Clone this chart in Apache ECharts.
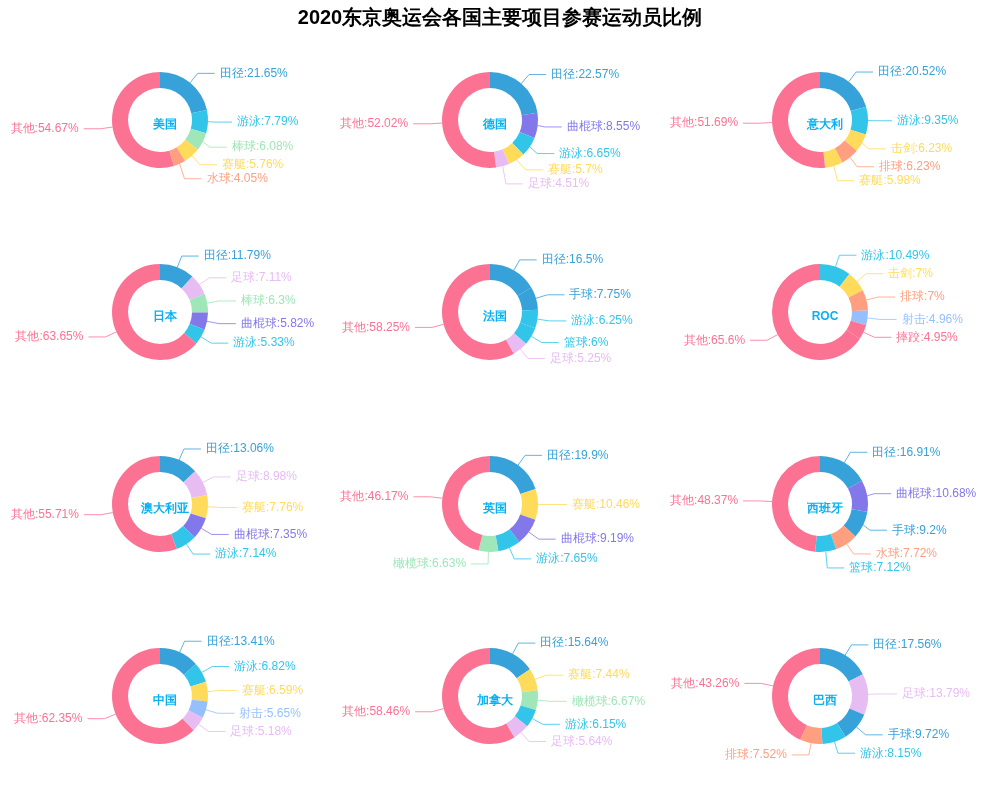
<!DOCTYPE html>
<html>
<head>
<meta charset="utf-8">
<title>2020东京奥运会各国主要项目参赛运动员比例</title>
<script src="https://cdn.jsdelivr.net/npm/echarts@6/dist/echarts.min.js"></script>
<style>
    html, body { margin: 0; padding: 0; background: #fff; }
    #main { width: 1000px; height: 800px; }
</style>
</head>
<body>
<div id="main"></div>
<script>
    // 国家（按网格顺序，从左到右、从上到下）
    const countries = ['美国', '德国', '意大利', '日本', '法国', 'ROC',
        '澳大利亚', '英国', '西班牙', '中国', '加拿大', '巴西'];

    // 每个国家的项目名称
    const sportNames = [
        ['田径', '游泳', '棒球', '赛艇', '水球', '其他'],
        ['田径', '曲棍球', '游泳', '赛艇', '足球', '其他'],
        ['田径', '游泳', '击剑', '排球', '赛艇', '其他'],
        ['田径', '足球', '棒球', '曲棍球', '游泳', '其他'],
        ['田径', '手球', '游泳', '篮球', '足球', '其他'],
        ['游泳', '击剑', '排球', '射击', '摔跤', '其他'],
        ['田径', '足球', '赛艇', '曲棍球', '游泳', '其他'],
        ['田径', '赛艇', '曲棍球', '游泳', '橄榄球', '其他'],
        ['田径', '曲棍球', '手球', '水球', '篮球', '其他'],
        ['田径', '游泳', '赛艇', '射击', '足球', '其他'],
        ['田径', '赛艇', '橄榄球', '游泳', '足球', '其他'],
        ['田径', '足球', '手球', '游泳', '排球', '其他']
    ];

    // 每个国家的项目占比（%）
    const sportValues = [
        [21.65, 7.79, 6.08, 5.76, 4.05, 54.67],
        [22.57, 8.55, 6.65, 5.7, 4.51, 52.02],
        [20.52, 9.35, 6.23, 6.23, 5.98, 51.69],
        [11.79, 7.11, 6.3, 5.82, 5.33, 63.65],
        [16.5, 7.75, 6.25, 6, 5.25, 58.25],
        [10.49, 7, 7, 4.96, 4.95, 65.6],
        [13.06, 8.98, 7.76, 7.35, 7.14, 55.71],
        [19.9, 10.46, 9.19, 7.65, 6.63, 46.17],
        [16.91, 10.68, 9.2, 7.72, 7.12, 48.37],
        [13.41, 6.82, 6.59, 5.65, 5.18, 62.35],
        [15.64, 7.44, 6.67, 6.15, 5.64, 58.46],
        [17.56, 13.79, 9.72, 8.15, 7.52, 43.26]
    ];

    const sportColors = {
        '田径': '#37a2da', '手球': '#37a2da',
        '游泳': '#32c5e9', '篮球': '#32c5e9',
        '棒球': '#9fe6b8', '橄榄球': '#9fe6b8',
        '赛艇': '#ffdb5c', '击剑': '#ffdb5c',
        '水球': '#ff9f7f', '排球': '#ff9f7f',
        '其他': '#fb7293', '摔跤': '#fb7293',
        '曲棍球': '#8378ea',
        '足球': '#e7bcf3',
        '射击': '#96bfff'
    };

    const colX = [160, 490, 820];
    const rowY = [120, 312, 504, 696];

    const chart = echarts.init(document.getElementById('main'));

    const titles = [{
        text: '2020东京奥运会各国主要项目参赛运动员比例',
        left: 'center',
        top: 3,
        textStyle: { fontSize: 20, fontWeight: 'bold', color: '#000' }
    }];
    const series = [];

    countries.forEach(function (name, i) {
        const cx = colX[i % 3];
        const cy = rowY[Math.floor(i / 3)];
        titles.push({
            text: name,
            left: cx,
            top: cy,
            textAlign: 'center',
            textVerticalAlign: 'middle',
            textStyle: { fontSize: 12, fontWeight: 'bold', color: '#0ab1f2' }
        });
        series.push({
            name: name,
            type: 'pie',
            center: [cx, cy],
            radius: [32, 48],
            startAngle: 90,
            label: {
                formatter: '{b}:{c}%',
                fontSize: 12,
                overflow: 'none'
            },
            labelLine: {
                length: 12,
                length2: 17,
                lineStyle: { opacity: 0.8 }
            },
            data: sportNames[i].map(function (s, k) {
                return {
                    name: s,
                    value: sportValues[i][k],
                    itemStyle: { color: sportColors[s] },
                    label: { color: sportColors[s] }
                };
            })
        });
    });

    chart.setOption({
        title: titles,
        series: series
    });
</script>
</body>
</html>
